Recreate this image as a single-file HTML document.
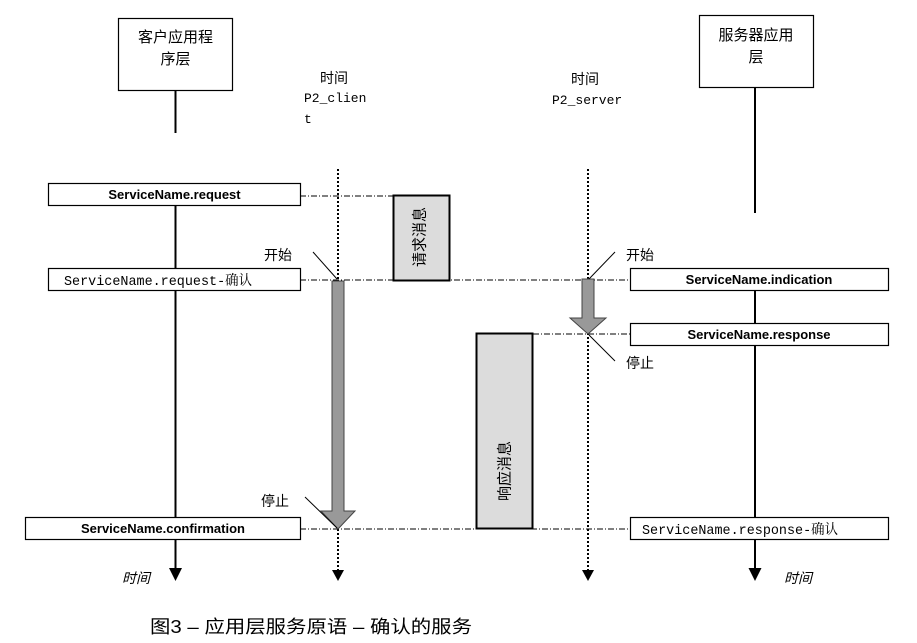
<!DOCTYPE html>
<html><head><meta charset="utf-8"><style>
html,body{margin:0;padding:0;background:#fff;}
svg{display:block;}
.cj{font-family:"Liberation Sans","Noto Sans CJK SC",sans-serif;}
.b{font-family:"Liberation Sans","Noto Sans CJK SC",sans-serif;font-weight:bold;font-size:13px;}
.m{font-family:"Liberation Mono","Noto Serif CJK SC",monospace;font-size:14px;}
.mono{font-family:"Liberation Mono","Noto Sans CJK SC",monospace;font-size:13px;}
</style></head><body>
<svg width="917" height="643" viewBox="0 0 917 643" xmlns="http://www.w3.org/2000/svg">
<rect x="118.5" y="18.5" width="114" height="72" fill="#fff" stroke="#000" stroke-width="1.2"/>
<text x="175.5" y="42" text-anchor="middle" class="cj" font-size="15">客户应用程</text>
<text x="175.5" y="64" text-anchor="middle" class="cj" font-size="15">序层</text>
<line x1="175.5" y1="90" x2="175.5" y2="133" stroke="#000" stroke-width="2"/>
<line x1="175.5" y1="205" x2="175.5" y2="568" stroke="#000" stroke-width="2"/>
<polygon points="169,568 182,568 175.5,581" fill="#000"/>
<rect x="699.5" y="15.5" width="114" height="72" fill="#fff" stroke="#000" stroke-width="1.2"/>
<text x="756" y="40" text-anchor="middle" class="cj" font-size="15">服务器应用</text>
<text x="756" y="62" text-anchor="middle" class="cj" font-size="15">层</text>
<line x1="755" y1="87" x2="755" y2="213" stroke="#000" stroke-width="2"/>
<line x1="755" y1="290" x2="755" y2="568" stroke="#000" stroke-width="2"/>
<polygon points="748.5,568 761.5,568 755,581" fill="#000"/>
<text x="320" y="83" class="cj" font-size="14">时间</text>
<text x="304" y="102" class="mono">P2_clien</text>
<text x="304" y="123" class="mono">t</text>
<text x="571" y="84" class="cj" font-size="14">时间</text>
<text x="552" y="104" class="mono">P2_server</text>
<line x1="338" y1="169" x2="338" y2="570" stroke="#000" stroke-width="2" stroke-dasharray="2,2"/>
<polygon points="332,570 344,570 338,581" fill="#000"/>
<line x1="588" y1="169" x2="588" y2="570" stroke="#000" stroke-width="2" stroke-dasharray="2,2"/>
<polygon points="582,570 594,570 588,581" fill="#000"/>
<g stroke="#000" stroke-width="1" stroke-dasharray="6,2,1,2" fill="none">
<line x1="300" y1="196" x2="393" y2="196"/>
<line x1="300" y1="280" x2="630" y2="280"/>
<line x1="533" y1="334" x2="630" y2="334"/>
<line x1="300" y1="529" x2="630" y2="529"/>
</g>
<rect x="393.5" y="195.5" width="56" height="85" fill="#dcdcdc" stroke="#000" stroke-width="2"/>
<text transform="translate(420,237) rotate(-90)" text-anchor="middle" dominant-baseline="central" class="cj" font-size="15">请求消息</text>
<rect x="476.5" y="333.5" width="56" height="195" fill="#dcdcdc" stroke="#000" stroke-width="2"/>
<text transform="translate(505,471) rotate(-90)" text-anchor="middle" dominant-baseline="central" class="cj" font-size="15">响应消息</text>
<polygon points="332,281 344,281 344,511 355,511 338,529 321,511 332,511" fill="#999" stroke="#444" stroke-width="1"/>
<polygon points="582,279 594,279 594,318 606,318 588,334 570,318 582,318" fill="#999" stroke="#444" stroke-width="1"/>
<g stroke="#000" stroke-width="1">
<line x1="313" y1="252" x2="337" y2="279"/>
<line x1="305" y1="497" x2="337" y2="528"/>
<line x1="615" y1="252" x2="589" y2="279"/>
<line x1="589" y1="335" x2="615" y2="361"/>
</g>
<text x="264" y="260" class="cj" font-size="14">开始</text>
<text x="261" y="506" class="cj" font-size="14">停止</text>
<text x="626" y="260" class="cj" font-size="14">开始</text>
<text x="626" y="368" class="cj" font-size="14">停止</text>
<g fill="#fff" stroke="#000" stroke-width="1.2">
<rect x="48.5" y="183.5" width="252" height="22"/>
<rect x="48.5" y="268.5" width="252" height="22"/>
<rect x="25.5" y="517.5" width="275" height="22"/>
<rect x="630.5" y="268.5" width="258" height="22"/>
<rect x="630.5" y="323.5" width="258" height="22"/>
<rect x="630.5" y="517.5" width="258" height="22"/>
</g>
<text x="174.5" y="199" text-anchor="middle" class="b">ServiceName.request</text>
<text x="64" y="285" class="m" textLength="188" lengthAdjust="spacingAndGlyphs">ServiceName.request-确认</text>
<text x="163" y="533" text-anchor="middle" class="b">ServiceName.confirmation</text>
<text x="759" y="284" text-anchor="middle" class="b">ServiceName.indication</text>
<text x="759" y="339" text-anchor="middle" class="b">ServiceName.response</text>
<text x="642" y="534" class="m" textLength="196" lengthAdjust="spacingAndGlyphs">ServiceName.response-确认</text>
<text x="122" y="583" class="cj" font-size="14" font-style="italic">时间</text>
<text x="784" y="583" class="cj" font-size="14" font-style="italic">时间</text>
<text x="150" y="633" class="cj" font-size="18" textLength="322" lengthAdjust="spacingAndGlyphs">图3 – 应用层服务原语 – 确认的服务</text>
</svg>
</body></html>
